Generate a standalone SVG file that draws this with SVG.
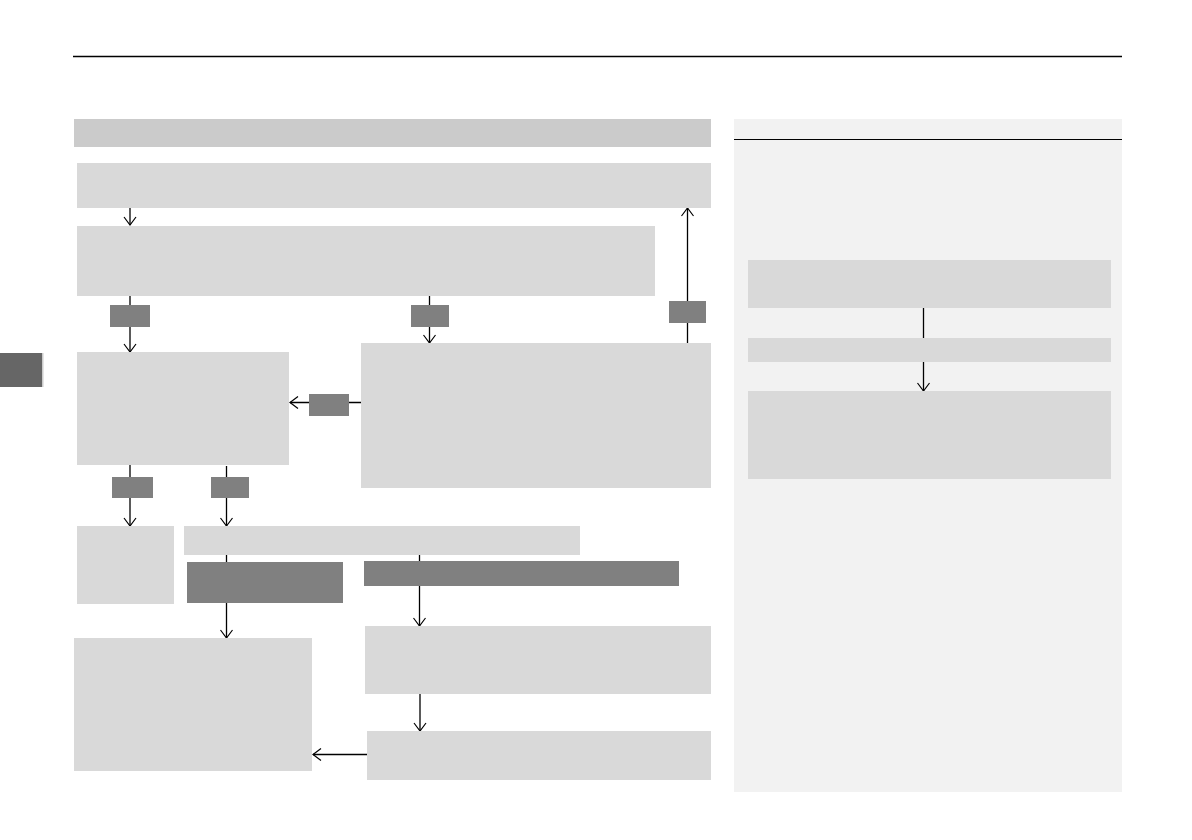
<svg xmlns="http://www.w3.org/2000/svg" width="1192" height="840" viewBox="0 0 1192 840">
<style>
.box{fill:#d9d9d9}
.lbl{fill:#808080}
.ln{stroke:#000;stroke-width:1.3;fill:none}
.arr{marker-end:url(#ah)}
</style>
<defs>
<marker id="ah" viewBox="0 0 10 14" refX="9" refY="7" markerWidth="10" markerHeight="14" markerUnits="userSpaceOnUse" orient="auto">
<path d="M1,1 L9,7 L1,13" fill="none" stroke="#000" stroke-width="1.2"/>
</marker>
</defs>
<rect width="1192" height="840" fill="#fff"/>
<line x1="73" y1="56.5" x2="1122" y2="56.5" stroke="#000" stroke-width="1.3"/>
<g id="side-tab">
<rect x="0" y="353" width="42" height="34" fill="#666"/>
<rect x="42" y="353" width="1.5" height="34" fill="#ccc"/>
</g>
<g id="header"><rect x="74" y="119" width="637" height="28" fill="#cbcbcb"/></g>
<g id="panel">
<rect x="734" y="119" width="388" height="673" fill="#f2f2f2"/>
<line x1="734" y1="139.5" x2="1122" y2="139.5" stroke="#000" stroke-width="1.2"/>
</g>
<g id="connectors">
<line class="ln arr" x1="130" y1="208" x2="130" y2="225"/>
<line class="ln arr" x1="130" y1="296" x2="130" y2="352"/>
<line class="ln arr" x1="429.5" y1="296" x2="429.5" y2="343"/>
<line class="ln arr" x1="687.5" y1="343" x2="687.5" y2="208"/>
<line class="ln arr" x1="361" y1="402.5" x2="290" y2="402.5"/>
<line class="ln arr" x1="130" y1="465" x2="130" y2="526"/>
<line class="ln arr" x1="226.5" y1="466" x2="226.5" y2="526"/>
<line class="ln arr" x1="226.5" y1="555" x2="226.5" y2="638"/>
<line class="ln arr" x1="419.5" y1="555" x2="419.5" y2="626"/>
<line class="ln arr" x1="420" y1="694" x2="420" y2="731"/>
<line class="ln arr" x1="367" y1="754.5" x2="313" y2="754.5"/>
<line class="ln" x1="923.5" y1="308" x2="923.5" y2="338"/>
<line class="ln arr" x1="923.5" y1="362" x2="923.5" y2="391"/>
</g>
<g id="nodeA"><rect class="box" x="77" y="163" width="634" height="45"/></g>
<g id="nodeB"><rect class="box" x="77" y="226" width="578" height="70"/></g>
<g id="lbl1"><rect class="lbl" x="110" y="305" width="40" height="22"/></g>
<g id="lbl2"><rect class="lbl" x="411" y="305" width="38" height="22"/></g>
<g id="lbl3"><rect class="lbl" x="669" y="301" width="37" height="22"/></g>
<g id="nodeC"><rect class="box" x="77" y="352" width="212" height="113"/></g>
<g id="nodeD"><rect class="box" x="361" y="343" width="350" height="145"/></g>
<g id="lbl4"><rect class="lbl" x="309" y="394" width="40" height="22"/></g>
<g id="lbl5"><rect class="lbl" x="112" y="477" width="41" height="21"/></g>
<g id="lbl6"><rect class="lbl" x="211" y="477" width="38" height="21"/></g>
<g id="nodeE"><rect class="box" x="77" y="526" width="97" height="78"/></g>
<g id="nodeF"><rect class="box" x="184" y="526" width="396" height="29"/></g>
<g id="nodeG"><rect class="lbl" x="187" y="562" width="156" height="41"/></g>
<g id="nodeH"><rect class="lbl" x="364" y="561" width="315" height="25"/></g>
<g id="nodeI"><rect class="box" x="74" y="638" width="238" height="133"/></g>
<g id="nodeJ"><rect class="box" x="365" y="626" width="346" height="68"/></g>
<g id="nodeK"><rect class="box" x="367" y="731" width="344" height="49"/></g>
<g id="nodeP1"><rect class="box" x="748" y="260" width="363" height="48"/></g>
<g id="nodeP2"><rect class="box" x="748" y="338" width="363" height="24"/></g>
<g id="nodeP3"><rect class="box" x="748" y="391" width="363" height="88"/></g>
</svg>
